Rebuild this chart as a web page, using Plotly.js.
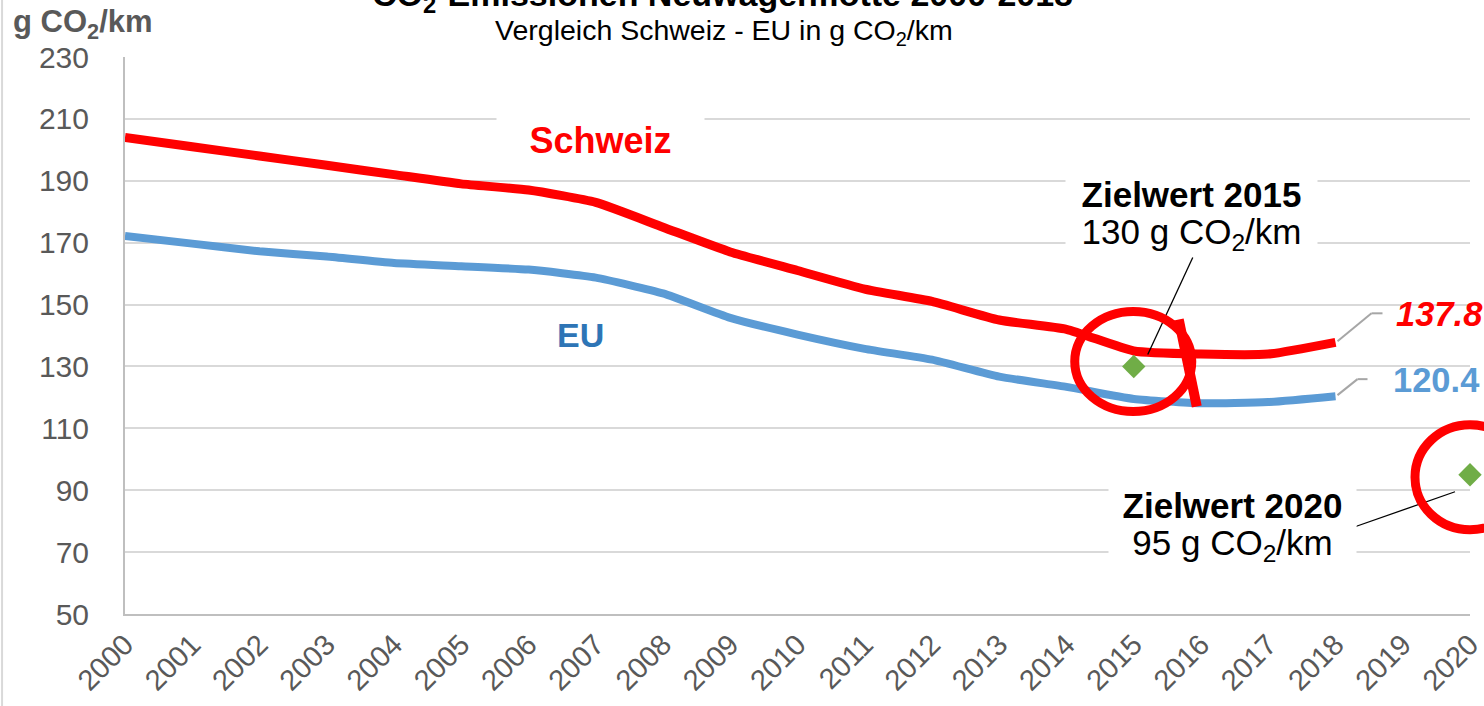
<!DOCTYPE html>
<html>
<head>
<meta charset="utf-8">
<script src="https://cdn.plot.ly/plotly-3.0.1.min.js"></script>
<style>html,body{margin:0;padding:0;background:#fff;}#chart{width:1484px;height:706px;}</style>
</head>
<body>
<div id="chart"></div>
<script>
// ---- data ----
const years = [2000,2001,2002,2003,2004,2005,2006,2007,2008,2009,2010,2011,2012,2013,2014,2015,2016,2017,2018];
const schweiz = [204,201,198,195,192,189,187,183,175,167,161,155,151,145,142,135,134,134,137.8];
const eu = [172.2,169.7,167.2,165.5,163.4,162.4,161.3,158.7,153.6,145.7,140.3,135.7,132.2,126.7,123.4,119.5,118.1,118.5,120.4];
const targetYears = [2015,2020];
const targetValues = [130,95];
const targetTitles = ['Zielwert 2015','Zielwert 2020'];
const targetTexts = ['130 g CO<sub>2</sub>/km','95 g CO<sub>2</sub>/km'];
const tickYears = [2000,2001,2002,2003,2004,2005,2006,2007,2008,2009,2010,2011,2012,2013,2014,2015,2016,2017,2018,2019,2020];
const tickLabels = ['2000','2001','2002','2003','2004','2005','2006','2007','2008','2009','2010','2011','2012','2013','2014','2015','2016','2017','2018','2019','2020'];
const xRange = [2000,2020];
const yRange = [50,230];

const FONT = 'Liberation Sans, Arial, sans-serif';
const RED = '#FF0000', BLUE = '#5B9BD5', GREEN = '#70AD47', GRAY = '#595959';

const lastI = years.length - 1;

const traces = [
  {x: years, y: eu, name: 'EU', mode: 'lines',
   line: {color: BLUE, width: 8, shape: 'spline', smoothing: 0.5}, hoverinfo: 'x+y'},
  {x: years, y: schweiz, name: 'Schweiz', mode: 'lines',
   line: {color: RED, width: 9, shape: 'spline', smoothing: 0.5}, hoverinfo: 'x+y'},
  {x: targetYears, y: targetValues, name: 'Zielwert', mode: 'markers', cliponaxis: false,
   marker: {symbol: 'diamond', size: 18, color: GREEN}}
];

const px = (v) => (v - xRange[0]) / (xRange[1] - xRange[0]);
const py = (v) => (v - yRange[0]) / (yRange[1] - yRange[0]);

const annotations = [
  {text: '<b>CO<sub>2</sub>-Emissionen Neuwagenflotte 2000-2018</b>', xref: 'paper', yref: 'paper',
   x: 0.4439, y: 1.1095, xanchor: 'center', yanchor: 'middle', showarrow: false,
   font: {family: FONT, size: 34, color: '#000'}},
  {text: 'Vergleich Schweiz - EU in g CO<sub>2</sub>/km', xref: 'paper', yref: 'paper',
   x: 0.4454, y: 1.0449, xanchor: 'center', yanchor: 'middle', showarrow: false,
   font: {family: FONT, size: 28.5, color: '#000'}},
  {text: '<b>g CO<sub>2</sub>/km</b>', xref: 'paper', yref: 'paper',
   x: -0.085, y: 1.0592, xanchor: 'left', yanchor: 'middle', showarrow: false,
   font: {family: FONT, size: 31, color: GRAY}},
  {text: '<b>Schweiz</b>', xref: 'paper', yref: 'paper', x: 0.3539, y: 0.851,
   xanchor: 'center', yanchor: 'middle', showarrow: false, bgcolor: '#fff', width: 205, height: 50,
   font: {family: FONT, size: 36, color: RED}},
  {text: '<b>EU</b>', xref: 'paper', yref: 'paper', x: 0.3383, y: 0.5009,
   xanchor: 'center', yanchor: 'middle', showarrow: false,
   font: {family: FONT, size: 34, color: '#2E75B6'}},
  {text: '<b><i>' + schweiz[lastI] + '</i></b>', x: years[lastI], y: schweiz[lastI],
   xanchor: 'left', yanchor: 'middle', xshift: 58, yshift: 28, showarrow: false,
   font: {family: FONT, size: 34.5, color: RED}},
  {text: '<b>' + eu[lastI] + '</b>', x: years[lastI], y: eu[lastI],
   xanchor: 'left', yanchor: 'middle', xshift: 55, yshift: 16, showarrow: false,
   font: {family: FONT, size: 34.5, color: BLUE}},
  // Zielwert 2015
  {text: '<b>' + targetTitles[0] + '</b>', x: targetYears[0], y: targetValues[0],
   xanchor: 'center', yanchor: 'middle', xshift: 58, yshift: 172, showarrow: false,
   bgcolor: '#fff', width: 249, height: 40, font: {family: FONT, size: 35, color: '#000'}},
  {text: targetTexts[0], x: targetYears[0], y: targetValues[0],
   xanchor: 'center', yanchor: 'middle', xshift: 58, yshift: 132, showarrow: false,
   bgcolor: '#fff', width: 249, height: 40, font: {family: FONT, size: 35, color: '#000'}},
  // Zielwert 2020
  {text: '<b>' + targetTitles[1] + '</b>', x: targetYears[1], y: targetValues[1],
   xanchor: 'center', yanchor: 'middle', xshift: -238, yshift: -30, showarrow: false,
   bgcolor: '#fff', width: 245, height: 40, font: {family: FONT, size: 35, color: '#000'}},
  {text: targetTexts[1], x: targetYears[1], y: targetValues[1],
   xanchor: 'center', yanchor: 'middle', xshift: -238, yshift: -70, showarrow: false,
   bgcolor: '#fff', width: 245, height: 40, font: {family: FONT, size: 35, color: '#000'}}
];

function pxLine(xa, ya, x0, y0, x1, y1, color, width, xref, yref) {
  return {type: 'line', xref: xref || 'x', yref: yref || 'y', xsizemode: 'pixel', ysizemode: 'pixel',
    xanchor: xa, yanchor: ya, x0: x0, y0: y0, x1: x1, y1: y1, layer: 'above',
    line: {color: color, width: width}};
}

const shapes = [
  // outer chart border (left)
  {type: 'line', xref: 'paper', yref: 'paper', x0: -0.0914, x1: -0.0914, y0: -0.3, y1: 1.2,
   line: {color: '#D9D9D9', width: 2}},
  // leaders to end values
  pxLine(years[lastI], schweiz[lastI], 2, 1, 36, 29, '#A6A6A6', 2),
  pxLine(years[lastI], schweiz[lastI], 36, 29, 47, 29, '#A6A6A6', 2),
  pxLine(years[lastI], eu[lastI], 2, 1, 22, 17, '#A6A6A6', 2),
  pxLine(years[lastI], eu[lastI], 22, 17, 32, 17, '#A6A6A6', 2),
  // pointer lines from target texts
  pxLine(targetYears[0], targetValues[0], 59, 109, 14, 12, '#000', 1.3),
  pxLine(targetYears[1], targetValues[1], -115, -52, -15, -17, '#000', 1.3),
  // hand-drawn red circles
  {type: 'circle', xref: 'paper', yref: 'paper', xsizemode: 'pixel', ysizemode: 'pixel',
   xanchor: px(targetYears[0]), yanchor: py(targetValues[0]), x0: -59, x1: 58, y0: -45, y1: 55,
   layer: 'above', line: {color: RED, width: 9}},
  pxLine(px(targetYears[0]), py(targetValues[0]), 45, 47, 63, -40, RED, 10, 'paper', 'paper'),
  {type: 'circle', xref: 'paper', yref: 'paper', xsizemode: 'pixel', ysizemode: 'pixel',
   xanchor: px(targetYears[1]), yanchor: py(targetValues[1]), x0: -55, x1: 55, y0: -55, y1: 50,
   layer: 'above', line: {color: RED, width: 9}}
];

const layout = {
  width: 1484, height: 706,
  margin: {l: 125, r: 14, t: 57, b: 92, pad: 0},
  paper_bgcolor: '#fff', plot_bgcolor: '#fff',
  showlegend: false,
  font: {family: FONT, color: GRAY},
  xaxis: {range: xRange, tickvals: tickYears, ticktext: tickLabels, tickangle: -45,
    showgrid: false, zeroline: false, showline: true, linecolor: '#BFBFBF', linewidth: 2,
    ticks: '', ticklabelstandoff: 0, ticklabeloverflow: 'allow',
    tickfont: {family: FONT, size: 29, color: GRAY}, fixedrange: true},
  yaxis: {range: yRange, dtick: 20, tick0: 50, showgrid: true, gridcolor: '#D9D9D9', gridwidth: 2,
    zeroline: false, showline: true, linecolor: '#BFBFBF', linewidth: 2,
    ticks: '', ticklabelstandoff: 28, tickfont: {family: FONT, size: 30, color: GRAY}, fixedrange: true},
  annotations: annotations,
  shapes: shapes
};

Plotly.newPlot('chart', traces, layout, {displayModeBar: false, staticPlot: true});
</script>
</body>
</html>
